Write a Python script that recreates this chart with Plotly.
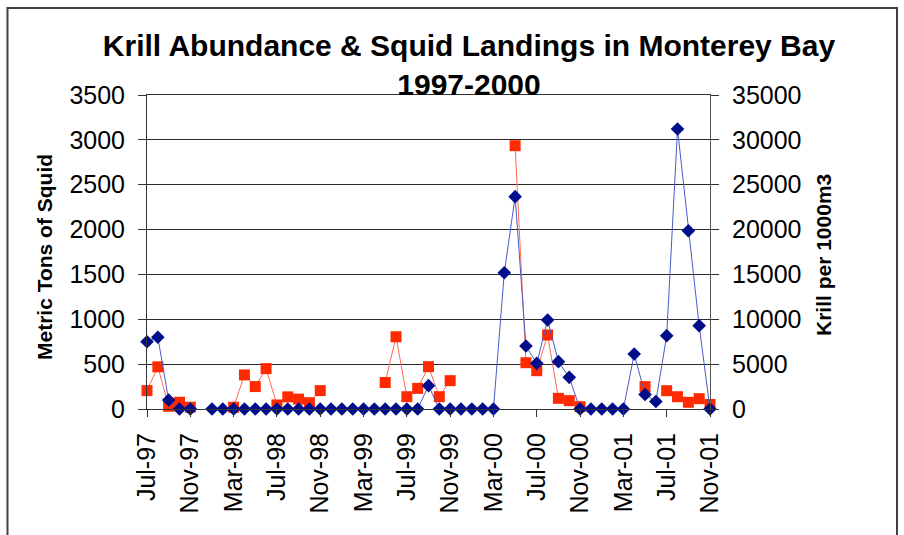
import plotly.graph_objects as go

months = ["Jul-97","Aug-97","Sep-97","Oct-97","Nov-97","Dec-97",
          "Jan-98","Feb-98","Mar-98","Apr-98","May-98","Jun-98","Jul-98","Aug-98","Sep-98","Oct-98","Nov-98","Dec-98",
          "Jan-99","Feb-99","Mar-99","Apr-99","May-99","Jun-99","Jul-99","Aug-99","Sep-99","Oct-99","Nov-99","Dec-99",
          "Jan-00","Feb-00","Mar-00","Apr-00","May-00","Jun-00","Jul-00","Aug-00","Sep-00","Oct-00","Nov-00","Dec-00",
          "Jan-01","Feb-01","Mar-01","Apr-01","May-01","Jun-01","Jul-01","Aug-01","Sep-01","Oct-01","Nov-01"]

squid_tons = [205, 470, 30, 75, 20, None,
              None, None, 20, 380, 250, 450, 45, 135, 110, 70, 205, None,
              None, None, None, None, 295, 805, 137, 230, 472, 137, 316, None,
              None, None, None, None, 2935, 516, 427, 825, 119, 93, 26, None,
              None, None, None, None, 249, None, 204, 137, 75, 115, 50]

krill_per_1000m3 = [7500, 8000, 1000, 0, 0, None,
                    0, 0, 0, 0, 0, 0, 0, 0, 0, 0, 0, 0,
                    0, 0, 0, 0, 0, 0, 0, 0, 2600, 0, 0, 0,
                    0, 0, 0, 15190, 23670, 7020, 5090, 9920, 5280, 3530, 0, 0,
                    0, 0, 0, 6130, 1620, 840, 8170, 31210, 19870, 9290, 0]

tick_months = months[::4]
left_ticks = list(range(0, 3501, 500))
right_ticks = list(range(0, 35001, 5000))

FONT = "Arial, Liberation Sans, sans-serif"
W, H = 904, 535
L, R, T, B = 147, 194, 95, 126
pw, ph = W - L - R, H - T - B

def px_x(x):
    return (x - L) / pw

def px_y(y):
    return (H - B - y) / ph

fig = go.Figure()
fig.add_trace(go.Scatter(
    x=months, y=krill_per_1000m3, yaxis="y2", mode="lines+markers",
    name="Krill", connectgaps=False, cliponaxis=False,
    line=dict(color="#4a5cc8", width=1),
    marker=dict(symbol="diamond", size=10.5, color="#000e8c")))
fig.add_trace(go.Scatter(
    x=months, y=squid_tons, yaxis="y", mode="lines+markers",
    name="Squid", connectgaps=False, cliponaxis=False,
    line=dict(color="#ff6a50", width=1),
    marker=dict(symbol="square", size=11, color="#ff2a00")))

fig.update_layout(
    width=W, height=H,
    margin=dict(l=L, r=R, t=T, b=B, autoexpand=False),
    paper_bgcolor="white", plot_bgcolor="white",
    showlegend=False,
    font=dict(family=FONT, color="black"),
    title=dict(text="<b>Krill Abundance & Squid Landings in Monterey Bay<br>1997-2000</b>",
               x=px_x(469), xref="paper", xanchor="center",
               y=1 - 56 / H, yref="container", yanchor="top", automargin=False,
               font=dict(size=30, family=FONT, color="black")),
    xaxis=dict(type="category", categoryorder="array", categoryarray=months,
               range=[0, len(months) - 1], tickmode="array", tickvals=tick_months,
               ticktext=tick_months, tickangle=-90, ticks="outside", ticklen=7,
               tickcolor="#333", showline=True, linecolor="#333", linewidth=1,
               mirror=True, showgrid=False, zeroline=False, ticklabelstandoff=6,
               automargin=False,
               tickfont=dict(size=25, family=FONT, color="black")),
    yaxis=dict(range=[0, 3500], tickmode="array", tickvals=left_ticks,
               ticktext=[str(v) for v in left_ticks],
               ticks="outside", ticklen=8, tickcolor="#333",
               showline=True, linecolor="#333", linewidth=1,
               showgrid=True, gridcolor="#2a2a2a", gridwidth=1, zeroline=False,
               ticklabelstandoff=8, automargin=False,
               tickfont=dict(size=25, family=FONT, color="black")),
    yaxis2=dict(range=[0, 35000], tickmode="array", tickvals=right_ticks,
                ticktext=[str(v) for v in right_ticks],
                overlaying="y", side="right", ticks="outside", ticklen=8,
                tickcolor="#333", showline=True, linecolor="#555", linewidth=1,
                showgrid=False, zeroline=False, ticklabelstandoff=8,
                automargin=False,
                tickfont=dict(size=25, family=FONT, color="black")),
    annotations=[
        dict(text="<b>Metric Tons of Squid</b>", textangle=-90, showarrow=False,
             xref="paper", yref="paper", x=px_x(44), y=px_y(257),
             xanchor="center", yanchor="middle",
             font=dict(size=21, family=FONT, color="black")),
        dict(text="<b>Krill per 1000m3</b>", textangle=-90, showarrow=False,
             xref="paper", yref="paper", x=px_x(823), y=px_y(255),
             xanchor="center", yanchor="middle",
             font=dict(size=21, family=FONT, color="black")),
    ],
    shapes=[dict(type="rect", xref="paper", yref="paper",
                 x0=px_x(7.5), x1=px_x(897), y0=px_y(560), y1=px_y(8),
                 line=dict(color="#404040", width=2), layer="below")],
)

fig.write_html("out.html", config={"displayModeBar": False},
               post_script="document.body.style.margin='0';document.body.style.overflow='hidden';")
